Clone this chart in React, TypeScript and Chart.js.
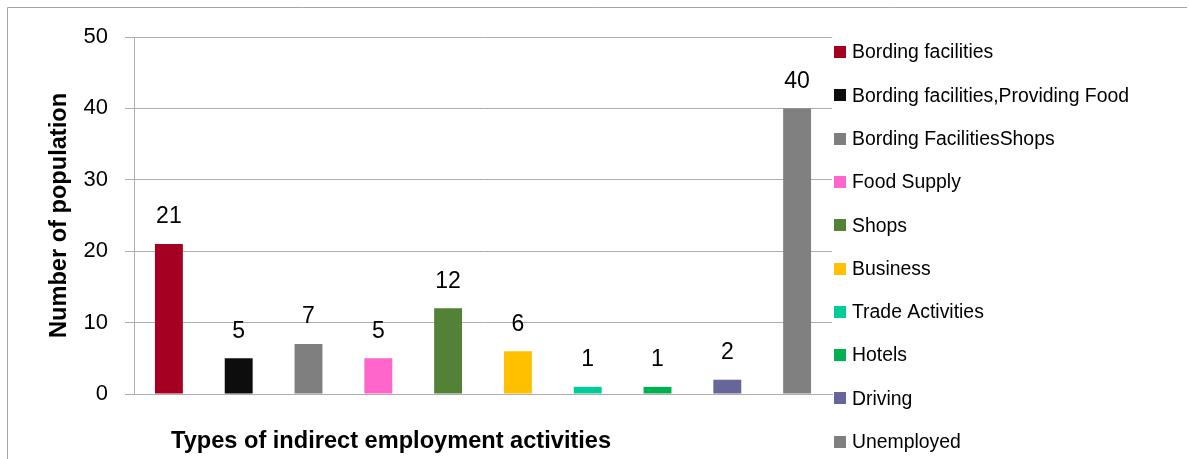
import React, { useEffect, useRef } from "react";
import { Chart, registerables } from "chart.js";

Chart.register(...registerables);

const categories: string[] = [
  "Bording facilities",
  "Bording facilities,Providing Food",
  "Bording FacilitiesShops",
  "Food Supply",
  "Shops",
  "Business",
  "Trade Activities",
  "Hotels",
  "Driving",
  "Unemployed",
];
const values: number[] = [21, 5, 7, 5, 12, 6, 1, 1, 2, 40];
const colors: string[] = [
  "#A50021",
  "#0D0D0D",
  "#7F7F7F",
  "#FF66CC",
  "#538135",
  "#FFC000",
  "#00CC99",
  "#00B050",
  "#666699",
  "#808080",
];
const yTitle = "Number of population";
const xTitle = "Types of indirect employment activities";
const yMin = 0;
const yMax = 50;
const yStep = 10;

const FONT = "'Liberation Sans', Arial, sans-serif";
const GRID = "#ADADAD";

const overlay = {
  id: "overlay",
  afterDraw(chart: any) {
    const ctx = chart.ctx;
    const area = chart.chartArea;
    ctx.save();
    // frame
    ctx.strokeStyle = "#A6A6A6";
    ctx.lineWidth = 1;
    ctx.beginPath();
    ctx.moveTo(7.5, 459);
    ctx.lineTo(7.5, 7.5);
    ctx.lineTo(1187, 7.5);
    ctx.stroke();

    // data labels
    const meta = chart.getDatasetMeta(0);
    ctx.fillStyle = "#000";
    ctx.font = `23px ${FONT}`;
    ctx.textAlign = "center";
    ctx.textBaseline = "middle";
    meta.data.forEach((bar: any, i: number) => {
      ctx.fillText(String(values[i]), bar.x, bar.y - 27);
    });

    // y title
    ctx.save();
    ctx.font = `bold 23.6px ${FONT}`;
    ctx.translate(59, (area.top + area.bottom) / 2);
    ctx.rotate(-Math.PI / 2);
    ctx.textAlign = "center";
    ctx.textBaseline = "middle";
    ctx.fillText(yTitle, 0, 0);
    ctx.restore();

    // x title
    ctx.font = `bold 23.6px ${FONT}`;
    ctx.textAlign = "left";
    ctx.textBaseline = "middle";
    ctx.fillText(xTitle, 171, 441);

    // legend
    const rowStart = 52;
    const rowGap = 43.3;
    ctx.font = `19.4px ${FONT}`;
    categories.forEach((name, i) => {
      const cy = rowStart + i * rowGap;
      ctx.fillStyle = colors[i];
      ctx.fillRect(834, Math.round(cy - 6), 12, 12);
      ctx.fillStyle = "#000";
      ctx.textAlign = "left";
      ctx.textBaseline = "middle";
      ctx.fillText(name, 852, cy + 1);
    });
    ctx.restore();
  },
};

export default function App() {
  const ref = useRef<HTMLCanvasElement | null>(null);
  useEffect(() => {
    if (!ref.current) return;
    const chart = new Chart(ref.current, {
      type: "bar",
      data: {
        labels: categories,
        datasets: [
          {
            data: values,
            backgroundColor: colors,
            borderWidth: 0,
            barPercentage: 0.4,
            categoryPercentage: 1,
          },
        ],
      },
      options: {
        animation: false,
        responsive: false,
        maintainAspectRatio: false,
        layout: { padding: { left: 0, top: 37, right: 358, bottom: 0 } },
        plugins: {
          legend: { display: false },
          tooltip: { enabled: false },
        },
        scales: {
          x: {
            grid: { display: false },
            border: { display: true, color: GRID, width: 1 },
            ticks: { display: false },
            afterFit: (scale: any) => {
              scale.height = 65;
            },
          },
          y: {
            min: yMin,
            max: yMax,
            ticks: {
              stepSize: yStep,
              color: "#000",
              font: { family: FONT, size: 22 },
              padding: 17,
            },
            grid: { color: GRID, lineWidth: 1, tickLength: 9, drawTicks: true },
            border: { display: true, color: GRID, width: 1 },
            afterFit: (scale: any) => {
              scale.width = 134;
            },
          },
        },
      },
      plugins: [overlay],
    });
    return () => chart.destroy();
  }, []);
  return (
    <div style={{ position: "absolute", left: 0, top: 0, width: 1190, height: 459, background: "#fff" }}>
      <canvas ref={ref} width={1190} height={459} style={{ display: "block" }} />
    </div>
  );
}
